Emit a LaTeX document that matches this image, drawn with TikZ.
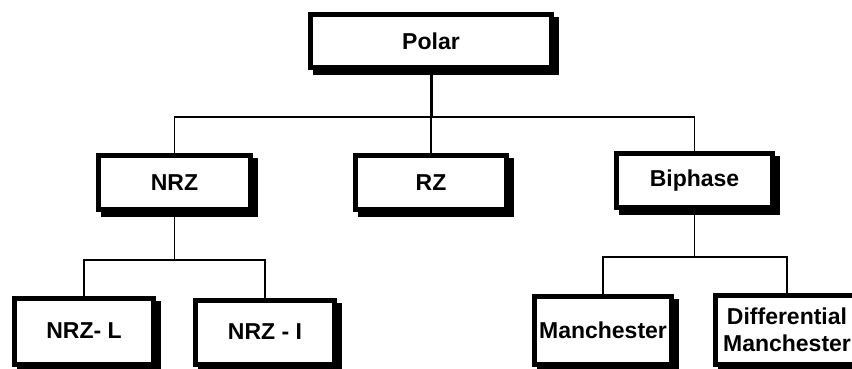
\documentclass[tikz,border=0pt]{standalone}
\usepackage{fontspec}
\setmainfont{Liberation Sans}
\begin{document}
\begin{tikzpicture}[x=1pt, y=-1pt]
\tikzset{
  unit/.style={draw=black, line width=5pt, fill=white, inner sep=0pt,
    align=center, font=\fontsize{23}{27}\selectfont\bfseries,
    preaction={fill=black, draw=black,
      transform canvas={shift={(5pt,-5pt)}}}},
  link/.style={draw=black, line width=1.6pt},
  trunk/.style={draw=black, line width=3pt}
}
\useasboundingbox (0,0) rectangle (852,368);

% top level
\node[unit, minimum width=241pt, minimum height=53pt] (polar) at (431,41) {Polar};

% second level
\node[unit, minimum width=152pt, minimum height=54pt] (nrz) at (174.5,182.5) {NRZ};
\node[unit, minimum width=151pt, minimum height=54pt] (rz) at (431,182.5) {RZ};
\node[unit, minimum width=156pt, minimum height=54pt] (biphase) at (694.5,180.5) {Biphase};

% third level
\node[unit, minimum width=139pt, minimum height=66pt] (nrzl) at (84,331) {NRZ- L};
\node[unit, minimum width=139pt, minimum height=64pt] (nrzi) at (265,332) {NRZ - I};
\node[unit, minimum width=137pt, minimum height=68pt] (manch) at (603,330) {Manchester};
\node[unit, minimum width=143pt, minimum height=69pt] (diff) at (787,329.5) {Differential\\Manchester};

% bus lines
\coordinate (bus) at (0,117);
\coordinate (lbus) at (0,260);
\coordinate (rbus) at (0,257);

\draw[trunk] (polar) -- (polar |- bus);
\draw[link] (nrz) -- (nrz |- bus) -| (biphase);
\draw[link] (rz) -- (rz |- bus);

\draw[link] (nrz) -- (nrz |- lbus);
\draw[link] (nrzl) -- (nrzl |- lbus) -| (nrzi);

\draw[link] (biphase) -- (biphase |- rbus);
\draw[link] (manch) -- (manch |- rbus) -| (diff);
\end{tikzpicture}
\end{document}
